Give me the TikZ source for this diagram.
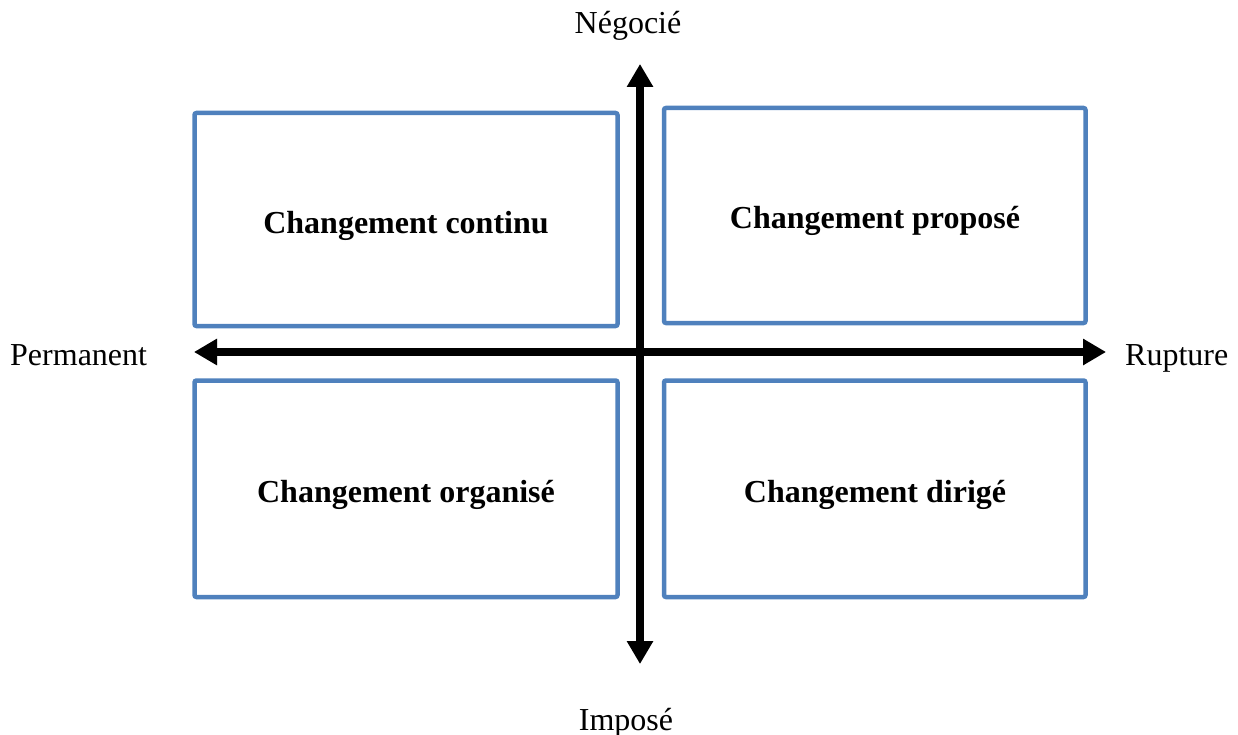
\documentclass[tikz,border=0pt]{standalone}
\usepackage{fontspec}
\setmainfont{Liberation Serif}
\usetikzlibrary{arrows.meta}
\definecolor{frameblue}{HTML}{4F81BD}
\tikzset{
  quadrant/.style={draw=frameblue, line width=4.5pt, rounded corners=2pt, inner sep=0pt},
  quadtext/.style={font=\fontsize{32}{38}\selectfont\bfseries, inner sep=0pt, anchor=base},
  axislabel/.style={font=\fontsize{32}{38}\selectfont, inner sep=0pt},
  axisarrow/.style={line width=8pt, -{Triangle[width=25pt,length=23pt]}},
  axisshadow/.style={line width=8pt, draw=black!35, opacity=0.5, -{Triangle[width=25pt,length=23pt]}},
}
\begin{document}
\begin{tikzpicture}[x=1pt,y=-1pt]
\useasboundingbox (0,0) rectangle (1238,735);

% the four quadrants
\draw[quadrant] (194.5,113) rectangle (617.5,326);
\draw[quadrant] (664,108) rectangle (1085.5,323);
\draw[quadrant] (194.5,380.5) rectangle (617.5,597);
\draw[quadrant] (664,380.5) rectangle (1085.5,597);
\coordinate (tl) at (406,219.5);
\coordinate (tr) at (875,215.5);
\coordinate (bl) at (406,488.5);
\coordinate (br) at (875,488.5);
\node[quadtext] (tltext) at ([yshift=-14pt]tl) {Changement continu};
\node[quadtext] (trtext) at ([yshift=-13.5pt]tr) {Changement proposé};
\node[quadtext] (bltext) at ([yshift=-13.5pt]bl) {Changement organisé};
\node[quadtext] (brtext) at ([yshift=-13.5pt]br) {Changement dirigé};

% axes
\coordinate (centre) at (640,352);
\coordinate (top) at (640,64);
\coordinate (bottom) at (640,664);
\coordinate (left) at (194,352);
\coordinate (right) at (1106,352);
\begin{scope}[shift={(2,2.5)}]
  \draw[axisshadow] (centre) -- (top);
  \draw[axisshadow] (centre) -- (bottom);
  \draw[axisshadow] (centre) -- (left);
  \draw[axisshadow] (centre) -- (right);
\end{scope}
\draw[axisarrow] (centre) -- (top);
\draw[axisarrow] (centre) -- (bottom);
\draw[axisarrow] (centre) -- (left);
\draw[axisarrow] (centre) -- (right);

% axis labels
\node[axislabel, anchor=base] (neg) at (628,34) {Négocié};
\node[axislabel, anchor=base] (imp) at (626,730) {Imposé};
\node[axislabel, anchor=base west] (perm) at (10,365) {Permanent};
\node[axislabel, anchor=base west] (rup) at (1125,365) {Rupture};
\end{tikzpicture}
\end{document}
